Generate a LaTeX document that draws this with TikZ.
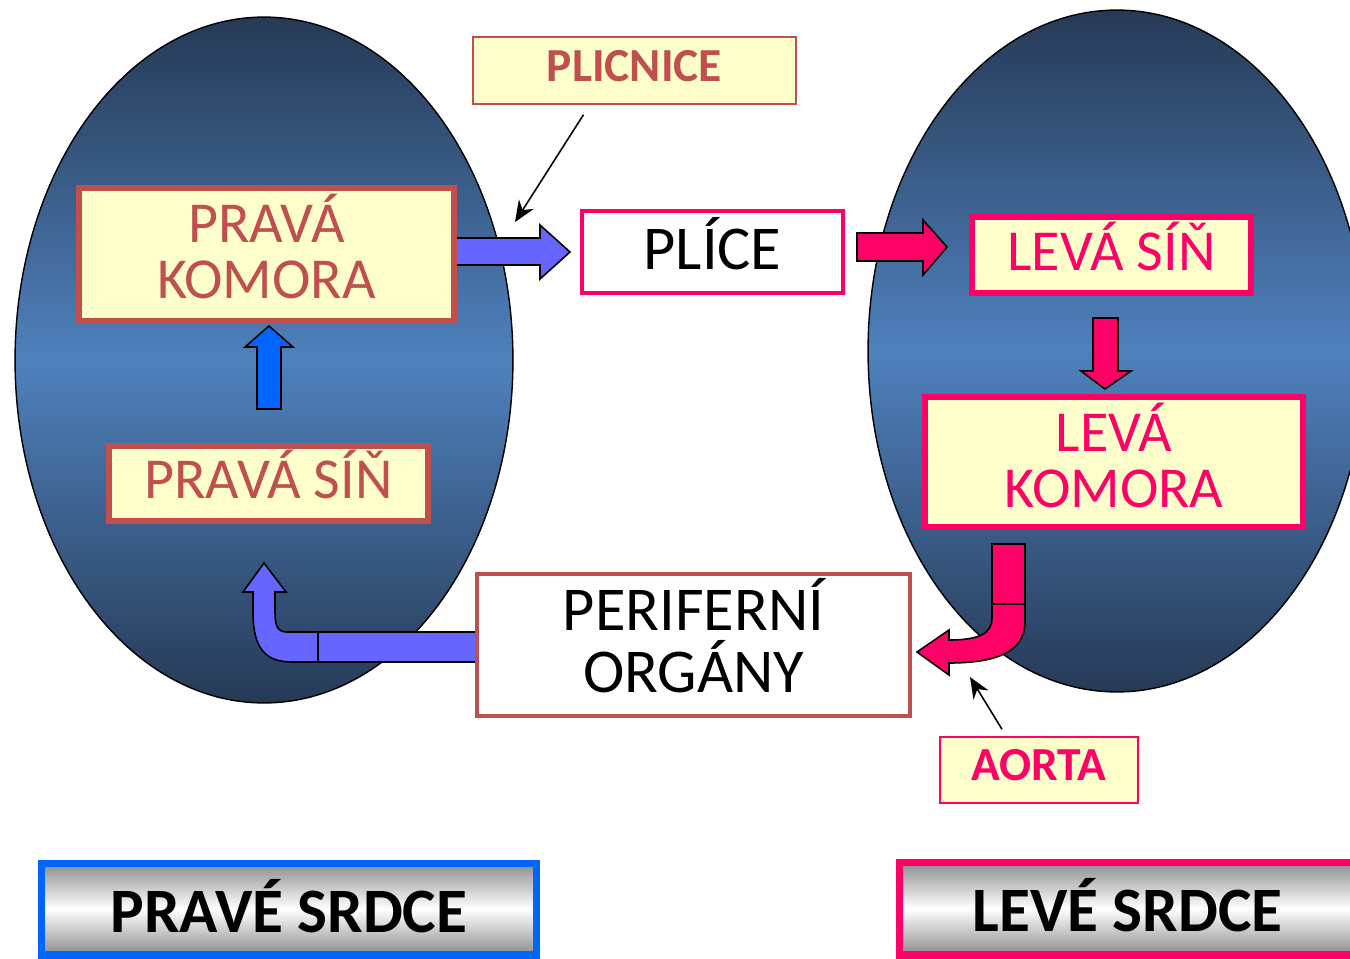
\documentclass[tikz,border=0pt]{standalone}
\usepackage{fontspec}
\setmainfont{Carlito}
\usetikzlibrary{arrows.meta,calc}
\definecolor{brick}{HTML}{C0504D}
\definecolor{rose}{HTML}{FF0066}
\definecolor{paleyellow}{HTML}{FFFFCC}
\definecolor{bluearr}{HTML}{0066FF}
\definecolor{violetarr}{HTML}{6666FF}
\definecolor{navy}{HTML}{263A56}
\definecolor{steel}{HTML}{4F81BD}

\begin{document}
\begin{tikzpicture}[x=0.02cm,y=-0.02cm,
  chamber/.style={draw=#1,line width=3.4pt,fill=paleyellow,text=#1,align=center,inner sep=0pt,text depth=9.5pt,font=\fontsize{33}{32}\selectfont},
  organ/.style={draw=#1,fill=white,text=black,align=center,inner sep=0pt,text depth=11pt,font=\fontsize{35.5}{35}\selectfont},
  tag/.style={draw=#1,line width=0.8pt,fill=paleyellow,text=#1,inner sep=0pt,text depth=5.5pt,font=\bfseries\fontsize{27}{30}\selectfont},
  side/.style={draw=#1,line width=4pt,top color=black!45,bottom color=black!45,middle color=white,inner sep=0pt,text depth=3.5pt,font=\bfseries\fontsize{36}{40}\selectfont},
  heart/.style={draw=black,line width=0.8pt,top color=navy,bottom color=navy,middle color=steel},
  block/.style={draw=black,line width=0.9pt,fill=#1,line join=miter},
  pointer/.style={draw=black,line width=0.9pt,-{Stealth[length=12pt,width=10pt]}}]
		\clip (0,0) rectangle (1350,958);
		% the two hearts
		\draw[heart] (264,360) ellipse [x radius=4.98cm, y radius=6.86cm];
		\draw[heart] (1117,351) ellipse [x radius=4.98cm, y radius=6.82cm];
		% block arrows
		\draw[block=bluearr] (257,409) -- (257,347) -- (245,347) -- (269,326) -- (293,347) -- (281,347) -- (281,409) -- cycle;
		\draw[block=violetarr] (450,238) -- (540,238) -- (540,225) -- (570,252) -- (540,279) -- (540,265) -- (450,265) -- cycle;
		\draw[block=rose] (857,233) -- (923,233) -- (923,220) -- (947,247) -- (923,275) -- (923,261) -- (857,261) -- cycle;
		\draw[block=rose] (1093,318) -- (1118,318) -- (1118,371) -- (1131,371) -- (1105,389) -- (1081,371) -- (1093,371) -- cycle;
		\draw[block=violetarr] (318,632) rectangle (478,662);
		\draw[block=violetarr] (318,632) -- (287,632) .. controls (277,632) and (275,625) .. (275,612) -- (275,592) -- (286,592) -- (264,563) -- (243,592) -- (253,592) -- (253,612) .. controls (253,648) and (265,662) .. (292,662) -- (318,662) -- cycle;
		\draw[block=rose] (992,544) rectangle (1025,604);
		\draw[block=rose] (992,604) -- (992,618) .. controls (992,634) and (978,640) .. (949,640) -- (949,630) -- (917,652) -- (949,675) -- (949,663) .. controls (1000,663) and (1025,650) .. (1025,622) -- (1025,604) -- cycle;
		% chambers and organs
		\node[chamber=brick,minimum width=7.5cm,minimum height=2.66cm](pk) at (266.5,254.5) {PRAVÁ\\KOMORA};
		\node[chamber=brick,minimum width=6.38cm,minimum height=1.5cm,text depth=11pt](ps) at (268.5,483.5) {PRAVÁ SÍŇ};
		\node[chamber=rose,minimum width=5.58cm,minimum height=1.52cm](ls) at (1111.5,255) {LEVÁ SÍŇ};
		\node[chamber=rose,minimum width=7.56cm,minimum height=2.6cm,text depth=8pt](lk) at (1114,462) {LEVÁ\\KOMORA};
		\node[organ=rose,line width=2.8pt,minimum width=5.22cm,minimum height=1.64cm,text depth=10pt](plice) at (712.5,252) {PLÍCE};
		\node[organ=brick,line width=2.3pt,minimum width=8.66cm,minimum height=2.84cm](po) at (693.5,645) {PERIFERNÍ\\ORGÁNY};
		% vessel labels
		\node[tag=brick,minimum width=6.46cm,minimum height=1.34cm](plicnice) at (634.5,70.5) {PLICNICE};
		\node[tag=rose,minimum width=3.96cm,minimum height=1.32cm](aorta) at (1039,770) {AORTA};
		\coordinate (plictip) at (515,222);
		\coordinate (aortip) at (970,677);
		\draw[pointer] ($(plicnice.south)+(-51,10)$) -- (plictip);
		\draw[pointer] ($(aorta.north)+(-37,-7)$) -- (aortip);
		% the two sides
		\node[side=bluearr,minimum width=9.92cm,minimum height=1.84cm](prave) at (289,909) {PRAVÉ SRDCE};
		\node[side=rose,minimum width=9.14cm,minimum height=1.86cm](leve) at (1127.5,908.5) {LEVÉ SRDCE};
	\end{tikzpicture}
\end{document}
